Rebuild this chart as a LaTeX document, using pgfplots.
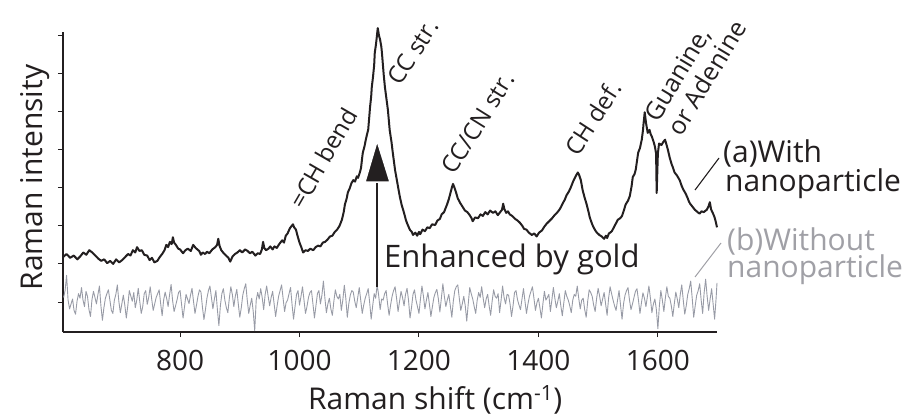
\documentclass[border=0pt]{standalone}
\usepackage{pgfplots}
\pgfplotsset{compat=1.18}
\usepackage{fontspec}
\setmainfont{Open Sans}
\definecolor{ink}{RGB}{35,31,32}
\definecolor{noisegray}{RGB}{152,155,166}
\definecolor{labelgray}{RGB}{160,160,166}

\begin{document}
\begin{tikzpicture}[x=1pt,y=1pt]
\begin{axis}[
  at={(63pt,-332pt)}, anchor=south west,
  scale only axis, width=654pt, height=300pt,
  xmin=604, xmax=1699, ymin=-0.787, ymax=7.087,
  axis lines=left, axis line style={-, line width=1.2pt, ink},
  clip=false,
  xtick={800,1000,1200,1400,1600}, xticklabels={800,1000,1200,1400,1600},
  ytick={0,1,2,3,4,5,6,7}, yticklabels={},
  tick align=outside, major tick length=5pt,
  tick style={line width=1pt, ink},
  xticklabel style={font=\fontsize{28}{30}\selectfont, text=ink, anchor=base, yshift=-33pt},
  xlabel={Raman shift (cm\textsuperscript{-1})},
  ylabel={Raman intensity},
  label style={font=\fontsize{30}{34}\selectfont, text=ink},
  x label style={at={(axis description cs:0.569,-0.257)}, anchor=base},
  y label style={at={(axis description cs:-0.0306,0.515)}, anchor=base},
]
% (b) spectrum recorded without nanoparticles: noise only
\addplot[noisegray, line width=0.9pt, line join=round] coordinates {
(605,0.12)(607.5,0.30)(610,0.70)(612.5,0.05)(615,-0.18)(617.5,-0.05)(620,0.08)(622.5,-0.22)(625,-0.32)(627.5,0.02)(630,0.22)(632.5,0.10)(635,0.38)(637.5,0.05)(640,-0.12)(642.5,0.28)(645,0.15)(647.5,-0.20)(650,-0.38)(652.5,0.06)
(655,0.28)(657.5,0.12)(660,-0.05)(662.5,0.20)(665,0.42)(667.5,-0.10)(670,-0.48)(672.5,-0.15)(675,0.10)(677.5,0.22)(680,0.32)(682.5,0.05)(685,-0.22)(687.5,-0.30)(690,0.05)(692.5,0.20)(695,0.45)(697.5,0.02)(700,-0.28)(702.5,-0.05)
(705,0.18)(707.5,-0.08)(710,-0.42)(712.5,-0.10)(715,0.30)(717.5,0.16)(720,0.02)(722.5,0.25)(725,-0.15)(727.5,0.05)(730,0.36)(732.5,0.02)(735,-0.30)(737.5,-0.12)(740,0.22)(742.5,0.30)(745,-0.06)(747.5,0.12)(750,0.40)(752.5,0.08)
(755,-0.22)(757.5,-0.05)(760,0.12)(762.5,0.22)(765,0.32)(767.5,-0.04)(770,-0.36)(772.5,0.05)(775,0.26)(777.5,0.10)(780,-0.12)(782.5,0.20)(785,0.46)(787.5,0.04)(790,-0.25)(792.5,-0.10)(795,0.06)(797.5,0.25)(800,0.30)(802.5,-0.06)
(805,-0.42)(807.5,-0.12)(810,0.20)(812.5,0.08)(815,-0.04)(817.5,0.18)(820,0.36)(822.5,0.02)(825,-0.30)(827.5,-0.08)(830,0.15)(832.5,0.32)(835,0.26)(837.5,-0.14)(840,-0.46)(842.5,-0.20)(845,0.10)(847.5,0.30)(850,0.42)(852.5,0.12)
(855,-0.18)(857.5,0.08)(860,0.30)(862.5,-0.20)(865,-0.62)(867.5,-0.10)(870,0.22)(872.5,0.35)(875,0.05)(877.5,-0.15)(880,-0.28)(882.5,0.10)(885,0.40)(887.5,0.20)(890,-0.12)(892.5,0.15)(895,0.33)(897.5,-0.05)(900,-0.40)(902.5,-0.15)
(905,0.18)(907.5,0.35)(910,0.48)(912.5,0.05)(915,-0.30)(917.5,-0.08)(920,0.10)(922.5,-0.25)(925,-0.75)(927.5,0.05)(930,0.25)(932.5,0.08)(935,0.35)(937.5,0.12)(940,-0.20)(942.5,0.20)(945,0.42)(947.5,0.15)(950,-0.10)(952.5,0.12)
(955,0.28)(957.5,-0.05)(960,-0.38)(962.5,-0.10)(965,0.15)(967.5,0.30)(970,0.45)(972.5,0.10)(975,-0.25)(977.5,-0.02)(980,0.05)(982.5,0.22)(985,0.38)(987.5,-0.06)(990,-0.45)(992.5,-0.12)(995,0.20)(997.5,0.30)(1000,-0.08)(1002.5,0.15)
(1005,0.40)(1007.5,0.05)(1010,-0.30)(1012.5,-0.12)(1015,0.12)(1017.5,0.25)(1020,0.30)(1022.5,-0.05)(1025,-0.42)(1027.5,-0.10)(1030,0.22)(1032.5,0.30)(1035,-0.05)(1037.5,0.18)(1040,0.55)(1042.5,0.10)(1045,-0.28)(1047.5,-0.05)(1050,0.10)(1052.5,-0.18)
(1055,-0.35)(1057.5,0.02)(1060,0.32)(1062.5,0.15)(1065,0.08)(1067.5,0.20)(1070,-0.22)(1072.5,0.05)(1075,0.44)(1077.5,0.10)(1080,-0.40)(1082.5,-0.05)(1085,0.18)(1087.5,0.30)(1090,0.26)(1092.5,0.02)(1095,-0.15)(1097.5,0.12)(1100,0.38)(1102.5,0.05)
(1105,-0.30)(1107.5,-0.08)(1110,0.10)(1112.5,0.22)(1115,0.35)(1117.5,-0.02)(1120,-0.45)(1122.5,-0.10)(1125,0.22)(1127.5,0.10)(1130,0.45)(1132.5,0.18)(1135,-0.20)(1137.5,0.08)(1140,0.05)(1142.5,0.22)(1145,0.30)(1147.5,-0.05)(1150,-0.35)(1152.5,-0.08)
(1155,0.15)(1157.5,0.30)(1160,0.40)(1162.5,0.10)(1165,-0.25)(1167.5,0.02)(1170,0.28)(1172.5,0.12)(1175,-0.10)(1177.5,0.20)(1180,0.36)(1182.5,0.05)(1185,-0.42)(1187.5,-0.15)(1190,0.20)(1192.5,0.32)(1195,0.05)(1197.5,-0.12)(1200,-0.30)(1202.5,0.08)
(1205,0.42)(1207.5,0.15)(1210,-0.18)(1212.5,0.05)(1215,0.25)(1217.5,-0.06)(1220,-0.38)(1222.5,-0.12)(1225,0.12)(1227.5,0.25)(1230,0.33)(1232.5,0.08)(1235,-0.26)(1237.5,0.10)(1240,0.48)(1242.5,0.15)(1245,-0.12)(1247.5,0.06)(1250,0.20)(1252.5,-0.10)
(1255,-0.40)(1257.5,0.02)(1260,0.30)(1262.5,0.40)(1265,0.45)(1267.5,0.10)(1270,-0.22)(1272.5,-0.05)(1275,0.15)(1277.5,-0.10)(1280,-0.50)(1282.5,-0.05)(1285,0.38)(1287.5,0.22)(1290,0.08)(1292.5,-0.12)(1295,-0.30)(1297.5,0.05)(1300,0.25)(1302.5,0.12)
(1305,0.40)(1307.5,0.10)(1310,-0.15)(1312.5,0.08)(1315,0.20)(1317.5,-0.10)(1320,-0.35)(1322.5,0.02)(1325,0.32)(1327.5,0.15)(1330,0.10)(1332.5,0.22)(1335,-0.28)(1337.5,0.05)(1340,0.42)(1342.5,0.12)(1345,-0.05)(1347.5,0.20)(1350,0.18)(1352.5,-0.05)
(1355,-0.38)(1357.5,-0.10)(1360,0.25)(1362.5,0.30)(1365,0.06)(1367.5,-0.08)(1370,-0.20)(1372.5,0.08)(1375,0.35)(1377.5,0.02)(1380,-0.30)(1382.5,-0.05)(1385,0.15)(1387.5,0.28)(1390,0.40)(1392.5,0.10)(1395,-0.22)(1397.5,-0.02)(1400,0.10)(1402.5,-0.15)
(1405,-0.42)(1407.5,-0.05)(1410,0.28)(1412.5,0.05)(1415,0.12)(1417.5,0.20)(1420,-0.25)(1422.5,0.05)(1425,0.38)(1427.5,0.10)(1430,-0.15)(1432.5,0.02)(1435,0.22)(1437.5,-0.10)(1440,-0.36)(1442.5,-0.02)(1445,0.30)(1447.5,0.15)(1450,0.05)(1452.5,-0.10)
(1455,-0.28)(1457.5,0.05)(1460,0.20)(1462.5,0.15)(1465,0.42)(1467.5,0.10)(1470,-0.18)(1472.5,0.05)(1475,0.10)(1477.5,-0.20)(1480,-0.40)(1482.5,0.02)(1485,0.32)(1487.5,0.25)(1490,0.15)(1492.5,-0.08)(1495,-0.25)(1497.5,0.10)(1500,0.36)(1502.5,0.15)
(1505,-0.10)(1507.5,0.08)(1510,0.25)(1512.5,-0.05)(1515,-0.35)(1517.5,0.10)(1520,0.40)(1522.5,0.22)(1525,0.05)(1527.5,-0.10)(1530,-0.22)(1532.5,0.05)(1535,0.30)(1537.5,-0.08)(1540,-0.45)(1542.5,-0.05)(1545,0.18)(1547.5,0.30)(1550,0.38)(1552.5,0.05)
(1555,-0.20)(1557.5,-0.05)(1560,0.12)(1562.5,0.28)(1565,0.35)(1567.5,0.05)(1570,-0.30)(1572.5,-0.02)(1575,0.24)(1577.5,0.10)(1580,-0.12)(1582.5,0.15)(1585,0.42)(1587.5,0.10)(1590,-0.28)(1592.5,-0.05)(1595,0.08)(1597.5,-0.20)(1600,-0.70)(1602.5,-0.10)
(1605,0.30)(1607.5,0.05)(1610,-0.25)(1612.5,0.10)(1615,0.40)(1617.5,0.15)(1620,0.10)(1622.5,-0.10)(1625,-0.38)(1627.5,-0.05)(1630,0.26)(1632.5,0.08)(1635,-0.15)(1637.5,0.20)(1640,0.45)(1642.5,0.05)(1645,-0.32)(1647.5,-0.10)(1650,0.20)(1652.5,0.35)
(1655,0.55)(1657.5,0.10)(1660,-0.40)(1662.5,-0.10)(1665,0.18)(1667.5,0.30)(1670,0.48)(1672.5,0.05)(1675,-0.30)(1677.5,0.25)(1680,0.60)(1682.5,0.15)(1685,-0.22)(1687.5,0.08)(1690,0.35)(1692.5,-0.05)(1695,-0.45)(1697.5,0.10)(1699,0.50)
};
% (a) SERS spectrum with gold nanoparticles
\addplot[ink, line width=2pt, line join=round] coordinates {
(604,1.18)(610,1.26)(616,1.16)(622,1.22)(628,1.12)(633,1.20)(638,1.30)(643,1.24)(648,1.36)(653,1.30)
(658,1.22)(663,1.14)(668,1.08)(673,1.12)(678,1.02)(683,1.08)(688,1.00)(693,1.12)(698,1.04)(703,1.10)
(708,1.18)(713,1.26)(717,1.22)(721,1.36)(725,1.30)(728,1.44)(732,1.34)(736,1.36)(740,1.24)(745,1.22)
(749,1.10)(753,1.16)(757,1.04)(762,1.08)(766,1.18)(770,1.26)(774,1.36)(777,1.50)(780,1.44)(783,1.58)
(786,1.52)(788,1.70)(790,1.56)(793,1.50)(797,1.40)(800,1.38)(805,1.28)(809,1.36)(813,1.40)(818,1.34)
(822,1.50)(826,1.42)(829,1.38)(832,1.34)(835,1.24)(838,1.30)(842,1.26)(845,1.32)(849,1.28)(854,1.38)
(859,1.44)(862,1.50)(864,1.66)(866,1.48)(869,1.36)(873,1.28)(877,1.22)(881,1.16)(884,1.06)(888,1.20)
(892,1.26)(896,1.30)(900,1.36)(904,1.30)(909,1.38)(913,1.34)(917,1.28)(921,1.32)(926,1.22)(930,1.28)
(934,1.26)(937,1.38)(939,1.58)(941,1.42)(944,1.36)(948,1.40)(951,1.46)(955,1.38)(958,1.46)(962,1.42)
(966,1.52)(971,1.62)(974,1.56)(977,1.74)(980,1.80)(984,1.94)(987,2.00)(989,2.04)(991,1.96)(994,1.90)
(997,1.72)(1000,1.56)(1003,1.44)(1006,1.30)(1010,1.36)(1014,1.34)(1018,1.40)(1023,1.36)(1027,1.44)(1031,1.48)
(1035,1.46)(1039,1.56)(1043,1.58)(1047,1.64)(1051,1.72)(1055,1.74)(1059,1.84)(1063,1.90)(1067,2.00)(1071,2.16)
(1074,2.36)(1076,2.56)(1079,2.72)(1081,2.88)(1084,2.98)(1087,3.12)(1090,3.20)(1093,3.16)(1096,3.30)(1098,3.26)
(1101,3.40)(1103,3.52)(1105,3.80)(1106,3.92)(1109,4.10)(1111,4.26)(1113,4.40)(1115,4.52)(1117,4.90)(1118,5.10)
(1120,5.40)(1121,5.64)(1123,5.90)(1125,6.22)(1126,6.54)(1128,6.76)(1129,6.90)(1131,7.19)(1133,7.00)(1135,6.88)
(1137,6.70)(1138,6.54)(1141,5.96)(1143,5.64)(1145,5.40)(1148,5.04)(1151,4.51)(1154,4.20)(1156,3.94)(1158,3.70)
(1160,3.46)(1163,3.20)(1165,3.02)(1168,2.76)(1171,2.55)(1175,2.34)(1178,2.16)(1180,2.07)(1183,1.96)(1185,1.89)
(1188,1.84)(1190,1.76)(1194,1.82)(1197,1.74)(1200,1.84)(1202,1.78)(1206,1.90)(1210,1.86)(1214,1.96)(1218,1.94)
(1222,2.04)(1227,2.02)(1231,2.14)(1235,2.18)(1238,2.30)(1242,2.36)(1245,2.48)(1247,2.56)(1250,2.70)(1252,2.82)
(1255,3.00)(1257,3.10)(1259,3.02)(1262,2.88)(1265,2.72)(1269,2.60)(1273,2.50)(1277,2.40)(1281,2.36)(1285,2.28)
(1288,2.20)(1290,2.12)(1294,2.22)(1299,2.20)(1303,2.30)(1307,2.26)(1311,2.36)(1315,2.30)(1319,2.40)(1324,2.34)
(1328,2.38)(1332,2.28)(1336,2.36)(1339,2.42)(1341,2.58)(1343,2.44)(1346,2.34)(1349,2.38)(1352,2.30)(1356,2.26)
(1361,2.18)(1365,2.14)(1369,2.08)(1373,2.00)(1376,1.92)(1380,1.90)(1384,1.82)(1389,1.76)(1393,1.80)(1397,1.72)
(1401,1.82)(1406,1.88)(1410,1.98)(1414,2.06)(1418,2.12)(1423,2.20)(1427,2.28)(1431,2.34)(1435,2.42)(1438,2.50)
(1441,2.60)(1444,2.68)(1447,2.80)(1451,2.90)(1454,3.00)(1458,3.16)(1461,3.26)(1463,3.32)(1466,3.40)(1468,3.34)
(1471,3.20)(1474,2.94)(1477,2.76)(1481,2.55)(1484,2.36)(1486,2.22)(1490,2.04)(1493,1.94)(1496,1.86)(1498,1.82)
(1502,1.76)(1506,1.72)(1510,1.66)(1513,1.74)(1515,1.68)(1518,1.80)(1520,1.82)(1523,1.86)(1525,1.92)(1529,2.04)
(1533,2.16)(1537,2.20)(1540,2.26)(1543,2.40)(1546,2.56)(1550,2.66)(1553,2.78)(1556,3.04)(1558,3.28)(1561,3.36)
(1563,3.48)(1565,3.70)(1567,3.92)(1570,4.04)(1573,4.26)(1575,4.50)(1576,4.68)(1578,4.98)(1580,4.72)(1581,4.62)
(1583,4.44)(1586,4.52)(1588,4.40)(1590,4.34)(1593,4.20)(1595,4.08)(1597,3.90)(1598,2.86)(1600,3.90)(1602,4.16)
(1606,4.12)(1609,4.20)(1612,4.26)(1615,4.10)(1617,3.98)(1620,3.78)(1623,3.62)(1625,3.54)(1628,3.40)(1632,3.32)
(1635,3.24)(1637,3.18)(1640,3.04)(1643,2.94)(1646,2.86)(1649,2.76)(1652,2.64)(1654,2.58)(1657,2.52)(1659,2.48)
(1662,2.42)(1665,2.38)(1668,2.34)(1670,2.32)(1673,2.38)(1677,2.36)(1680,2.40)(1682,2.42)(1685,2.52)(1687,2.62)
(1689,2.44)(1690,2.40)(1693,2.30)(1695,2.22)(1697,2.10)(1699,1.96)
};
% enhancement arrow
\draw[ink, line width=1.6pt] (axis cs:1130,0.39) -- (axis cs:1130,3.2);
\filldraw[ink, draw=white, line width=1.5pt] (axis cs:1109.6,3.15) -- (axis cs:1151.5,3.15) -- (axis cs:1130,4.23) -- cycle;
\end{axis}

% peak assignments
\begin{scope}[every node/.style={inner sep=0pt, text=ink, font=\fontsize{24}{27}\selectfont}]
\node[rotate=60] at (323,-158) {=CH bend};
\node[rotate=57] at (413,-52) {CC str.};
\node[rotate=58] at (478,-123) {CC/CN str.};
\node[rotate=57] at (593,-118) {CH def.};
\node[rotate=59, align=left, font=\fontsize{25}{27}\selectfont] at (695,-71) {Guanine,\\ or Adenine};
\end{scope}

\node[anchor=base west, inner sep=0pt, text=ink, font=\fontsize{31}{34}\selectfont] at (384,-267) {Enhanced by gold};

% series labels
\begin{scope}[every node/.style={anchor=base west, inner sep=0pt, font=\fontsize{30}{33}\selectfont}]
\node[text=ink] at (723,-163) {(a)With};
\node[text=ink] at (725,-192) {nanoparticle};
\node[text=labelgray] at (727,-250) {(b)Without};
\node[text=labelgray] at (727,-277) {nanoparticle};
\end{scope}
\draw[ink, line width=1.1pt] (695,-190) -- (719,-158);
\draw[labelgray, line width=1pt] (695,-277) -- (721,-243);

\pgfresetboundingbox
\path[use as bounding box] (0,0) rectangle (919,-417);
\end{tikzpicture}
\end{document}
